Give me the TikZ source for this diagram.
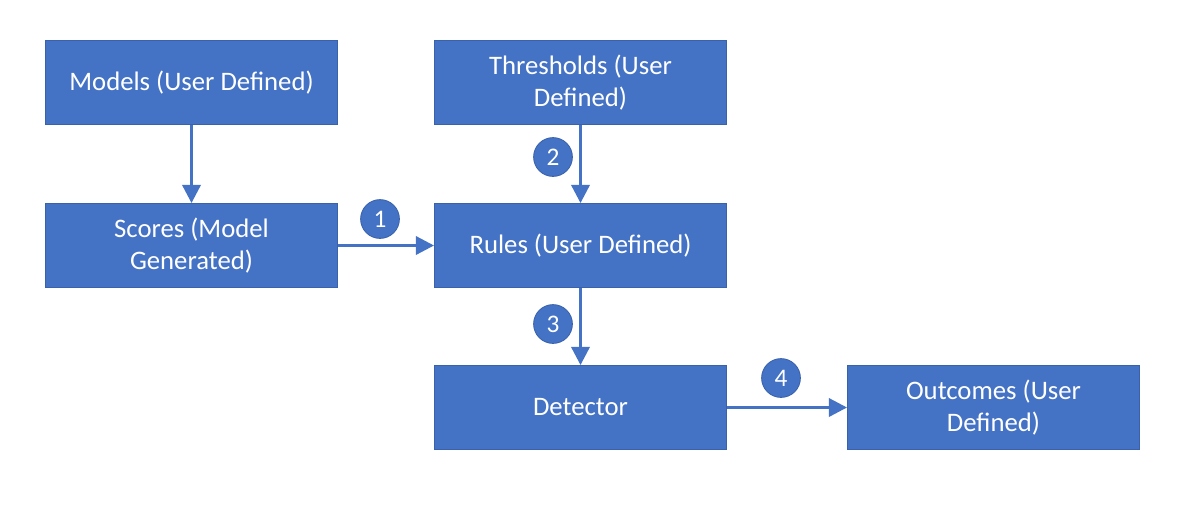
\documentclass[tikz,border=0pt]{standalone}
\usepackage{fontspec}
\setmainfont{Carlito}
\usetikzlibrary{arrows.meta}
\definecolor{boxblue}{HTML}{4472C4}
\definecolor{boxedge}{HTML}{3A62AC}
\begin{document}
\begin{tikzpicture}[x=0.025cm,y=-0.025cm,
  box/.style={rectangle,fill=boxblue,draw=boxedge,line width=0.6pt,
    minimum width=7.3cm,minimum height=2.1cm,align=center,
    text=white,font=\fontsize{19}{22.7}\selectfont},
  num/.style={circle,fill=boxblue,draw=boxedge,line width=0.6pt,
    minimum size=0.97cm,inner sep=0pt,text=white,
    font=\fontsize{18}{20}\selectfont},
  flow/.style={draw=boxblue,line width=2.2pt,
    -{Triangle[length=13pt,width=13pt]}}]
\useasboundingbox (0,0) rectangle (1200,520);
\node [box] (models) at (191.5,82.5) {Models (User Defined)};
\node [box] (thresh) at (580.5,82.5) {Thresholds (User\\Defined)};
\node [box] (scores) at (191.5,245.5) {Scores (Model\\Generated)};
\node [box] (rules) at (580.5,245.5) {Rules (User Defined)};
\node [box] (detector) at (580.5,407.5) {Detector};
\node [box] (outcomes) at (993.5,407.5) {Outcomes (User\\Defined)};
\draw [flow] (models) -- (scores);
\draw [flow] (scores) -- (rules);
\draw [flow] (thresh) -- (rules);
\draw [flow] (rules) -- (detector);
\draw [flow] (detector) -- (outcomes);
\node [num] (n1) at (380,219) {1};
\node [num] (n2) at (553,157) {2};
\node [num] (n3) at (553,324) {3};
\node [num] (n4) at (781,378) {4};
\end{tikzpicture}
\end{document}
